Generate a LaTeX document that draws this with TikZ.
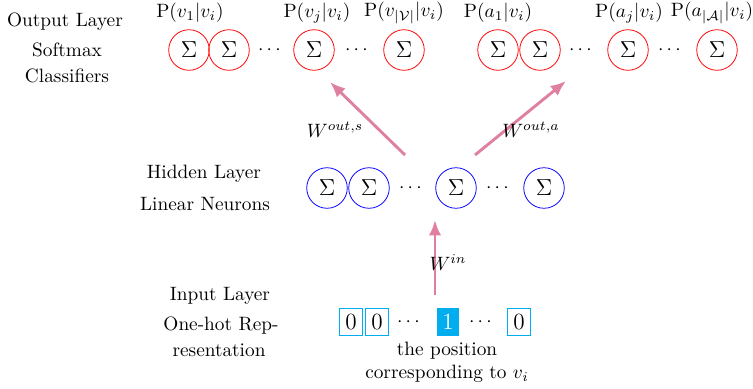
\documentclass[tikz,border=0pt]{standalone}
\usepackage{amsmath,amssymb,amsfonts}
\usetikzlibrary{arrows.meta}
\definecolor{pcyan}{RGB}{0,174,239}
\definecolor{wpink}{RGB}{223,128,159}

\begin{document}
\begin{tikzpicture}[x=0.518pt, y=-0.518pt,
    outunit/.style={draw=red, circle, minimum size=21pt, inner sep=0pt, font=\large},
    hidunit/.style={draw=blue, circle, minimum size=21pt, inner sep=0pt, font=\large},
    bit/.style={draw=pcyan, minimum width=11.6pt, minimum height=14pt, inner sep=0pt, font=\large},
    hotbit/.style={fill=pcyan, text=white, minimum width=11.6pt, minimum height=14pt, inner sep=0pt, font=\large},
    weight/.style={-{Latex[length=8pt,width=6.5pt]}, wpink, line width=1.5pt}]
    \useasboundingbox (0,0) rectangle (753,389);
    % Layer captions
    \node (lo1) at (65,22) {Output Layer};
    \node (lo2) at (67,50) {Softmax};
    \node (lo3) at (67,76) {Classifiers};
    \node (lh1) at (204,174) {Hidden Layer};
    \node (lh2) at (205,204) {Linear Neurons};
    \node (li1) at (220,296) {Input Layer};
    \node (li2) at (221,326) {One-hot Rep-};
    \node (li3) at (219,350) {resentation};
    % Output layer: word classifiers
    \node[outunit] (o1) at (189,50) {$\Sigma$};
    \node[outunit] (o2) at (229,50) {$\Sigma$};
    \node (od1) at (271,50) {$\cdots$};
    \node[outunit] (o3) at (314,50) {$\Sigma$};
    \node (od2) at (358,50) {$\cdots$};
    \node[outunit] (o4) at (404,50) {$\Sigma$};
    % Output layer: action classifiers
    \node[outunit] (o5) at (498,50) {$\Sigma$};
    \node[outunit] (o6) at (540,50) {$\Sigma$};
    \node (od3) at (582,50) {$\cdots$};
    \node[outunit] (o7) at (628,50) {$\Sigma$};
    \node (od4) at (671,50) {$\cdots$};
    \node[outunit] (o8) at (717,50) {$\Sigma$};
    % Probabilities
    \node (p1) at (190,13) {$\mathrm{P}(v_1|v_i)$};
    \node (p3) at (317,13) {$\mathrm{P}(v_j|v_i)$};
    \node (p4) at (404,13) {$\mathrm{P}(v_{|\mathcal{V}|}|v_i)$};
    \node (p5) at (498,13) {$\mathrm{P}(a_1|v_i)$};
    \node (p7) at (629,13) {$\mathrm{P}(a_j|v_i)$};
    \node (p8) at (712,13) {$\mathrm{P}(a_{|\mathcal{A}|}|v_i)$};
    % Hidden layer
    \node[hidunit] (h1) at (327,188) {$\Sigma$};
    \node[hidunit] (h2) at (369,188) {$\Sigma$};
    \node (hd1) at (412,188) {$\cdots$};
    \node[hidunit] (h3) at (456,188) {$\Sigma$};
    \node (hd2) at (499,188) {$\cdots$};
    \node[hidunit] (h4) at (544,188) {$\Sigma$};
    % Input layer
    \node[bit] (i1) at (351,322) {0};
    \node[bit] (i2) at (377,322) {0};
    \node (id1) at (410,322) {$\cdots$};
    \node[hotbit] (i3) at (448,322) {1};
    \node (id2) at (482,322) {$\cdots$};
    \node[bit] (i4) at (519,322) {0};
    \node[align=center] (pos) at (447,362) {the position\\corresponding to $v_i$};
    % Weights
    \coordinate (hs) at (405,155);
    \coordinate (os) at (330,82);
    \coordinate (ha) at (475,155);
    \coordinate (oa) at (566,81);
    \coordinate (ih) at (435,295);
    \coordinate (hi) at (435,220);
    \draw[weight] (hs) -- (os);
    \draw[weight] (ha) -- (oa);
    \draw[weight] (ih) -- (hi);
    \node (ws) at (335,130) {$W^{out,s}$};
    \node (wa) at (531,130) {$W^{out,a}$};
    \node (wi) at (448,263) {$W^{in}$};
\end{tikzpicture}
\end{document}
